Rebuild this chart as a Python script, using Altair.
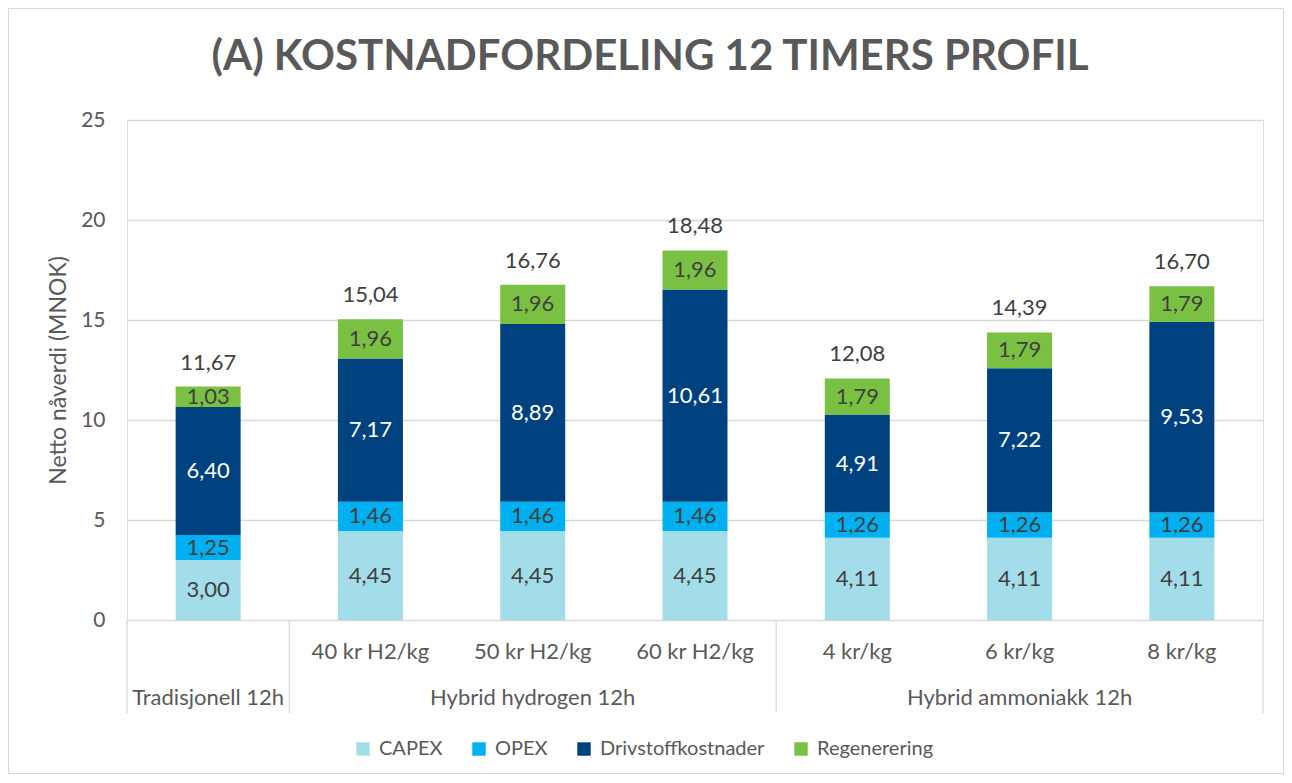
import altair as alt
import pandas as pd

title_text = "(A) KOSTNADFORDELING 12 TIMERS PROFIL"
categories = ["Tradisjonell 12h", "40 kr H2/kg", "50 kr H2/kg", "60 kr H2/kg", "4 kr/kg", "6 kr/kg", "8 kr/kg"]
sub_labels = ["", "40 kr H2/kg", "50 kr H2/kg", "60 kr H2/kg", "4 kr/kg", "6 kr/kg", "8 kr/kg"]
series = ["CAPEX", "OPEX", "Drivstoffkostnader", "Regenerering"]
capex = [3.00, 4.45, 4.45, 4.45, 4.11, 4.11, 4.11]
opex = [1.25, 1.46, 1.46, 1.46, 1.26, 1.26, 1.26]
drivstoff = [6.40, 7.17, 8.89, 10.61, 4.91, 7.22, 9.53]
regen = [1.03, 1.96, 1.96, 1.96, 1.79, 1.79, 1.79]
totals = [11.67, 15.04, 16.76, 18.48, 12.08, 14.39, 16.70]
groups = ["Tradisjonell 12h", "Hybrid hydrogen 12h", "Hybrid ammoniakk 12h"]
group_center_idx = [0, 2, 5]
separator_idx = [-0.5, 0.5, 3.5, 6.5]
colors = ["#A3DDE9", "#00B0F0", "#00427F", "#7AC143"]
label_colors = ["#404040", "#404040", "#FFFFFF", "#404040"]

def fmt(v):
    return f"{v:.2f}".replace(".", ",")

rows = []
for i, cat in enumerate(categories):
    for s_i, (s, vals) in enumerate(zip(series, [capex, opex, drivstoff, regen])):
        rows.append({"idx": i, "cat": cat, "series": s, "order": s_i,
                     "value": vals[i], "label": fmt(vals[i]), "lc": label_colors[s_i]})
df = pd.DataFrame(rows)
tot_df = pd.DataFrame({"idx": list(range(len(categories))), "total": totals,
                       "label": [fmt(t) for t in totals]})
sub_df = pd.DataFrame({"idx": list(range(len(categories))), "label": sub_labels})
grp_df = pd.DataFrame({"idx": group_center_idx, "label": groups})
sep_df = pd.DataFrame({"idx": separator_idx})
frame_df = pd.DataFrame({"k": [0]})
title_df = pd.DataFrame({"t": [title_text]})

FONT = "Lato"
GRAY = "#595959"
xscale = alt.Scale(domain=[-0.5, 6.5], nice=False, zero=False, padding=0)
yscale = alt.Scale(domain=[0, 25])

base = alt.Chart(df)

bars = base.mark_bar(size=65).encode(
    x=alt.X("idx:Q", scale=xscale, axis=None),
    y=alt.Y("value:Q", stack="zero", scale=yscale,
            axis=alt.Axis(values=[0, 5, 10, 15, 20, 25], title="Netto nåverdi (MNOK)",
                          domain=False, ticks=False, labelPadding=22, titlePadding=10,
                          gridColor="#D9D9D9", gridWidth=1.3, labelColor=GRAY, titleColor=GRAY,
                          labelFontSize=21, titleFontSize=23, labelFont=FONT, titleFont=FONT,
                          titleFontWeight="normal")),
    color=alt.Color("series:N", scale=alt.Scale(domain=series, range=colors),
                    legend=alt.Legend(title=None, orient="none", direction="horizontal",
                                      legendX=226, legendY=619, symbolType="square",
                                      symbolSize=180, symbolStrokeWidth=0, labelFontSize=20,
                                      labelFont=FONT, labelColor=GRAY, columnPadding=26,
                                      labelOffset=6, labelLimit=400)),
    order=alt.Order("order:Q", sort="ascending"),
)

seg_labels = base.transform_stack(
    stack="value", groupby=["idx"], as_=["y0", "y1"], sort=[alt.SortField("order")]
).transform_calculate(mid="(datum.y0 + datum.y1) / 2").mark_text(
    fontSize=22, font=FONT, baseline="middle"
).encode(
    x=alt.X("idx:Q", scale=xscale),
    y=alt.Y("mid:Q", scale=yscale),
    text="label:N",
    color=alt.Color("lc:N", scale=None),
)

tot_labels = alt.Chart(tot_df).mark_text(
    fontSize=22, font=FONT, baseline="middle", dy=-24, color="#404040"
).encode(
    x=alt.X("idx:Q", scale=xscale),
    y=alt.Y("total:Q", scale=yscale),
    text="label:N",
)

sub_text = alt.Chart(sub_df).mark_text(
    fontSize=22, font=FONT, baseline="middle", color=GRAY
).encode(
    x=alt.X("idx:Q", scale=xscale),
    y=alt.value(532),
    text="label:N",
)

grp_text = alt.Chart(grp_df).mark_text(
    fontSize=22, font=FONT, baseline="middle", color=GRAY
).encode(
    x=alt.X("idx:Q", scale=xscale),
    y=alt.value(578),
    text="label:N",
)

seps = alt.Chart(sep_df).mark_rule(color="#D9D9D9", strokeWidth=1.3).encode(
    x=alt.X("idx:Q", scale=xscale),
    y=alt.value(500),
    y2=alt.value(593),
)

frame = alt.Chart(frame_df).mark_rect(fill=None, stroke="#D9D9D9", strokeWidth=1).encode(
    x=alt.value(-118.5), x2=alt.value(1156.5), y=alt.value(-111.5), y2=alt.value(653.5)
)

title = alt.Chart(title_df).mark_text(
    fontSize=42, font=FONT, fontWeight="bold", color=GRAY, align="center", baseline="alphabetic"
).encode(
    x=alt.value(523), y=alt.value(-50), text="t:N"
)

chart = alt.layer(frame, title, bars, seg_labels, tot_labels, sub_text, grp_text, seps).properties(
    width=1136,
    height=500,
    autosize=alt.AutoSizeParams(type="none"),
    padding={"left": 119, "top": 112, "right": 21, "bottom": 154},
).configure_view(stroke=None).configure(background="white")

chart.save("out.html", embed_options={"renderer": "svg", "actions": False})
